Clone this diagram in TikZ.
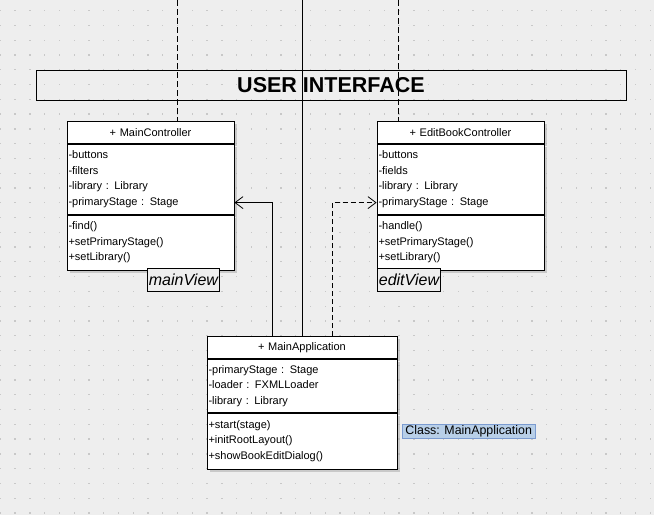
\documentclass[tikz,border=0pt]{standalone}
\usepackage{fontspec}
\setmainfont{Liberation Sans}
\usetikzlibrary{positioning,shadows,arrows.meta}
\definecolor{bgc}{HTML}{EEEEEE}
\definecolor{dotc}{HTML}{C8C8C8}
\definecolor{tipfill}{HTML}{B8CFE8}
\definecolor{tipline}{HTML}{7B9BD0}
\tikzset{
  part/.style={draw, fill=white, line width=0.8pt, inner xsep=1.5pt, inner ysep=0pt,
    anchor=north, align=left, font=\fontsize{11}{15.5}\selectfont,
    drop shadow={shadow xshift=2.5pt, shadow yshift=-2.5pt, fill=black!35}},
  head/.style={part, align=center, minimum height=22pt},
  viewlbl/.style={draw, fill=bgc, line width=0.8pt, inner xsep=1.5pt, inner ysep=0pt,
    minimum height=23pt, anchor=north west, font=\fontsize{16}{16}\selectfont\itshape},
  uses/.style={line width=0.8pt, -{Straight Barb[length=8pt,width=12pt]}},
  dep/.style={uses, dash pattern=on 5pt off 3pt},
  life/.style={line width=0.8pt, dash pattern=on 6pt off 3pt}
}
\begin{document}
\begin{tikzpicture}[x=1pt, y=-1pt]
  % canvas and grid
  \fill[bgc] (0,0) rectangle (654,515);
  \useasboundingbox (0,0) rectangle (654,515);
  \foreach \i in {0,...,44}
    \foreach \j in {0,...,34}
      \fill[dotc] (14.77*\i-0.3, 14.77*\j+10.1) rectangle ++(1.3,1.3);

  \node[draw, line width=0.8pt, minimum width=590pt, minimum height=30pt,
    font=\fontsize{21.5}{22}\selectfont\bfseries] (ui) at (331,85) {USER INTERFACE};

  % MainController
  \node[head, text width=164pt] (mc) at (150.5,121) {+ MainController};
  \node[part, text width=164pt, minimum height=70pt, below=0pt of mc] (mc-a)
    {-buttons\\-filters\\-library : Library\\-primaryStage : Stage};
  \node[part, text width=164pt, minimum height=55pt, below=0pt of mc-a] (mc-o)
    {-find()\\+setPrimaryStage()\\+setLibrary()};
  \node[viewlbl] (mv) at (147,268) {mainView};

  % EditBookController
  \node[head, text width=164pt] (eb) at (460.5,121) {+ EditBookController};
  \node[part, text width=164pt, minimum height=70pt, below=0pt of eb] (eb-a)
    {-buttons\\-fields\\-library : Library\\-primaryStage : Stage};
  \node[part, text width=164pt, minimum height=55pt, below=0pt of eb-a] (eb-o)
    {-handle()\\+setPrimaryStage()\\+setLibrary()};
  \node[viewlbl] (ev) at (377,268) {editView};

  % MainApplication
  \node[head, text width=187pt] (ma) at (302,336) {+ MainApplication};
  \node[part, text width=187pt, minimum height=53pt, below=0pt of ma] (ma-a)
    {-primaryStage : Stage\\-loader : FXMLLoader\\-library : Library};
  \node[part, text width=187pt, minimum height=56pt, below=0pt of ma-a] (ma-o)
    {+start(stage)\\+initRootLayout()\\+showBookEditDialog()};
  \node[draw=tipline, fill=tipfill, line width=0.8pt, inner xsep=3pt, inner ysep=0pt,
    minimum height=14pt, anchor=north west, font=\fontsize{12.4}{12}\selectfont]
    (cls) at (402,424) {Class: MainApplication};

  % lines
  \coordinate (mtop) at (177,0);
  \coordinate (atop) at (302,0);
  \coordinate (etop) at (398,0);
  \draw[life] (mtop) -- (mtop |- mc.north);
  \draw[life] (etop) -- (etop |- eb.north);
  \draw[line width=0.8pt] (atop) -- (ma.north);
  \draw[uses] ([xshift=-30pt]ma.north) |- ([yshift=12pt]mc-a.south east);
  \draw[dep] ([xshift=30pt]ma.north) |- ([yshift=12pt]eb-a.south west);
\end{tikzpicture}
\end{document}
